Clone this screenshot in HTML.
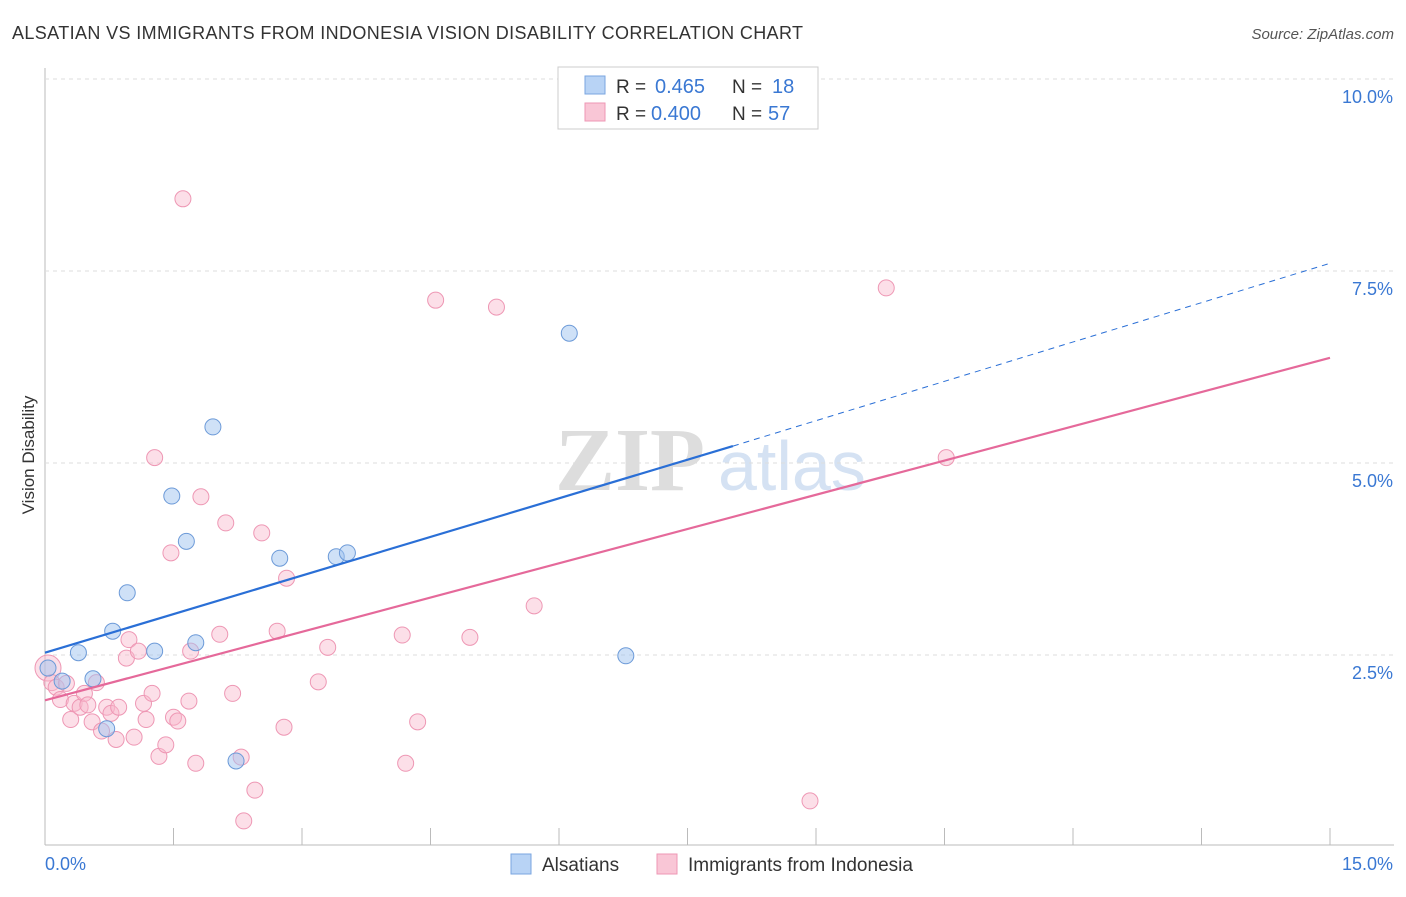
<!DOCTYPE html>
<html><head><meta charset="utf-8"><style>
body{margin:0;background:#fff;font-family:"Liberation Sans",sans-serif}
</style></head><body>
<svg id="c" width="1406" height="892" xmlns="http://www.w3.org/2000/svg">
<text x="12" y="39" font-size="18" fill="#333" textLength="791">ALSATIAN VS IMMIGRANTS FROM INDONESIA VISION DISABILITY CORRELATION CHART</text>
<text x="1394" y="39" font-size="15" fill="#555" font-style="italic" text-anchor="end">Source: ZipAtlas.com</text>
<text x="34" y="455" font-size="17" fill="#333" transform="rotate(-90 34 455)" text-anchor="middle">Vision Disability</text>
<text x="555" y="490" font-size="90" fill="#ddd" font-family="Liberation Serif" font-weight="bold">ZIP</text>
<text x="718" y="490" font-size="70" fill="#d5e2f3">atlas</text>
<g id="grid"></g><g id="marks"></g>
<g>
<rect x="558" y="67" width="260" height="62" fill="#fff" stroke="#ccc"/>
<rect x="585" y="76" width="20" height="18" fill="#b8d3f5" stroke="#7aa6e0"/>
<rect x="585" y="103" width="20" height="18" fill="#f9c6d6" stroke="#ee97b4"/>
<text x="616" y="93" font-size="19" fill="#333">R =</text>
<text x="655" y="93" font-size="20" fill="#3a78d3">0.465</text>
<text x="732" y="93" font-size="19" fill="#333">N =</text>
<text x="772" y="93" font-size="20" fill="#3a78d3">18</text>
<text x="616" y="120" font-size="19" fill="#333">R =</text>
<text x="651" y="120" font-size="20" fill="#3a78d3">0.400</text>
<text x="732" y="120" font-size="19" fill="#333">N =</text>
<text x="768" y="120" font-size="20" fill="#3a78d3">57</text>
</g>
<g>
<rect x="511" y="854" width="20" height="20" fill="#b8d3f5" stroke="#7aa6e0"/>
<text x="542" y="871" font-size="19" fill="#333">Alsatians</text>
<rect x="657" y="854" width="20" height="20" fill="#f9c6d6" stroke="#ee97b4"/>
<text x="688" y="871" font-size="19" fill="#333">Immigrants from Indonesia</text>
</g>
</svg>
<script>
const yTicks=[2.5,5,7.5,10];
const yTickLabels=["2.5%","5.0%","7.5%","10.0%"];
const blueX=[0.035,0.2,0.39,0.56,0.72,0.79,0.96,1.28,1.48,1.65,1.76,1.96,2.23,2.74,3.4,3.53,6.12,6.78];
const blueY=[2.33,2.16,2.53,2.19,1.54,2.81,3.31,2.55,4.57,3.98,2.66,5.47,1.12,3.76,3.78,3.83,6.69,2.49];
const pinkX=[0.035,0.08,0.13,0.18,0.25,0.3,0.34,0.41,0.46,0.5,0.55,0.6,0.66,0.72,0.77,0.83,0.86,0.95,0.98,1.04,1.09,1.15,1.18,1.25,1.28,1.33,1.41,1.47,1.5,1.55,1.61,1.68,1.7,1.76,1.82,2.04,2.11,2.19,2.29,2.32,2.45,2.53,2.71,2.79,2.82,3.19,3.3,4.17,4.21,4.35,4.56,4.96,5.27,5.71,8.93,9.82,10.52];
const pinkY=[2.33,2.14,2.08,1.92,2.13,1.66,1.87,1.82,2.0,1.85,1.63,2.14,1.51,1.82,1.74,1.4,1.82,2.46,2.7,1.43,2.55,1.87,1.66,2.0,5.07,1.18,1.33,3.83,1.69,1.64,8.44,1.9,2.55,1.09,4.56,2.77,4.22,2.0,1.17,0.34,0.74,4.09,2.81,1.56,3.5,2.15,2.6,2.76,1.09,1.63,7.12,2.73,7.03,3.14,0.6,7.28,5.07];
const blueLine=[[0,2.53],[8.03,5.22],[15,7.6]];
const pinkLine=[[0,1.91],[15,6.37]];
const X=v=>45+v/15*1285, Y=v=>847-v*76.8;
const ns="http://www.w3.org/2000/svg";
function mk(t,a,p){const e=document.createElementNS(ns,t);for(const k in a)e.setAttribute(k,a[k]);p.appendChild(e);return e;}
const g=document.getElementById('grid'),m=document.getElementById('marks');
mk('line',{x1:45,y1:68,x2:45,y2:845,stroke:'#bbb'},g);
mk('line',{x1:45,y1:845,x2:1394,y2:845,stroke:'#bbb'},g);
for(let i=1;i<=10;i++){mk('line',{x1:X(i*1.5),y1:828,x2:X(i*1.5),y2:845,stroke:'#bbb'},g);}
yTicks.forEach((t,i)=>{
const l=mk('line',{x1:45,y1:Y(t),x2:1394,y2:Y(t),stroke:'#ddd','stroke-dasharray':'4 4'},g);


const tx=mk('text',{x:1393,y:Y(t)+24,'font-size':18,fill:'#3a78d3','text-anchor':'end'},g);tx.textContent=yTickLabels[i];


});
mk('line',{x1:45,y1:79,x2:1394,y2:79,stroke:'#ddd','stroke-dasharray':'4 4'},g);
const x0=mk('text',{x:45,y:870,'font-size':18,fill:'#3a78d3'},g);x0.textContent='0.0%';


const x1=mk('text',{x:1393,y:870,'font-size':18,fill:'#3a78d3','text-anchor':'end'},g);x1.textContent='15.0%';


pinkX.forEach((v,i)=>{const c=mk('circle',{cx:X(v),cy:Y(pinkY[i]),r:i==0?13:8,fill:'rgba(248,183,204,0.45)',stroke:'#ee97b4','stroke-width':1},m);

});
blueX.forEach((v,i)=>{const c=mk('circle',{cx:X(v),cy:Y(blueY[i]),r:8,fill:'rgba(160,196,240,0.5)',stroke:'#6c9ad8','stroke-width':1},m);

});
const bl=mk('line',{x1:X(blueLine[0][0]),y1:Y(blueLine[0][1]),x2:X(blueLine[1][0]),y2:Y(blueLine[1][1]),stroke:'#2a6fd6','stroke-width':2.2},m);


const bd=mk('line',{x1:X(blueLine[1][0]),y1:Y(blueLine[1][1]),x2:X(blueLine[2][0]),y2:Y(blueLine[2][1]),stroke:'#2a6fd6','stroke-width':1,'stroke-dasharray':'6 5'},m);


const pl=mk('line',{x1:X(pinkLine[0][0]),y1:Y(pinkLine[0][1]),x2:X(pinkLine[1][0]),y2:Y(pinkLine[1][1]),stroke:'#e5699a','stroke-width':2.2},m);


</script>
</body></html>
